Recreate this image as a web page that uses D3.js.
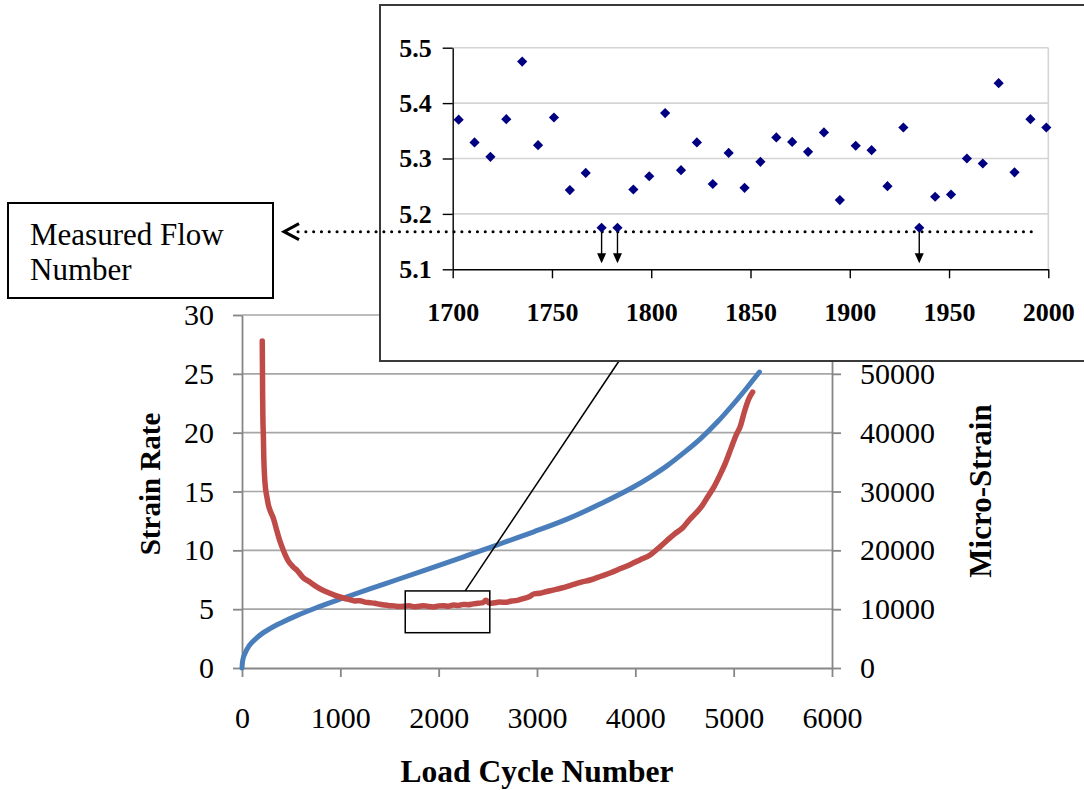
<!DOCTYPE html>
<html>
<head>
<meta charset="utf-8">
<script src="https://cdn.jsdelivr.net/npm/d3@7"></script>
<style>
  html, body { margin: 0; padding: 0; background: #fff; }
  svg { display: block; }
  text { font-family: "Liberation Serif", "Times New Roman", serif; fill: #000; }
</style>
</head>
<body>
<svg id="chart" width="1084" height="790"></svg>
<script>
// Strain rate (left axis) vs load cycle
const rateCycles = [206, 208, 210, 213, 217, 222, 230, 240, 252, 270, 295, 320, 350, 385, 420, 470, 520, 560, 620, 690, 760, 850, 940, 1030,
  1100, 1150, 1200, 1250, 1300, 1350, 1400, 1450, 1500, 1550, 1600, 1650, 1700, 1750, 1800, 1850, 1900, 1950, 2000, 2050, 2100, 2150,
  2200, 2250, 2300, 2350, 2400, 2450, 2480, 2520, 2570, 2620, 2680, 2740, 2800, 2860, 2920, 2970, 3030, 3100, 3150, 3250, 3350, 3450,
  3550, 3650, 3750, 3850, 3950, 4050, 4150, 4250, 4330, 4400, 4480, 4550, 4620, 4680, 4740, 4800, 4860, 4920, 4970, 5020, 5070, 5110,
  5150, 5193];
const strainRate = [27.8, 25.5, 23.0, 21.0, 19.8, 17.8, 16.2, 15.2, 14.6, 13.8, 13.2, 12.7, 11.8, 10.8, 10.0, 9.1, 8.6, 8.3, 7.7, 7.3, 6.9, 6.5, 6.2, 5.95,
  5.8, 5.7, 5.72, 5.6, 5.55, 5.5, 5.42, 5.35, 5.3, 5.28, 5.22, 5.25, 5.3, 5.2, 5.25, 5.3, 5.22, 5.18, 5.28, 5.3, 5.25, 5.35,
  5.32, 5.4, 5.38, 5.45, 5.5, 5.55, 5.75, 5.5, 5.55, 5.6, 5.58, 5.7, 5.75, 5.9, 6.05, 6.3, 6.35, 6.5, 6.6, 6.8, 7.05, 7.3,
  7.5, 7.8, 8.1, 8.45, 8.8, 9.2, 9.6, 10.3, 10.9, 11.4, 11.9, 12.6, 13.2, 13.8, 14.6, 15.4, 16.4, 17.5, 18.6, 19.7, 20.6, 21.8,
  22.8, 23.45];

// Accumulated micro-strain (right axis) vs load cycle
const strainCycles = [0, 4, 10, 31, 70, 116, 200, 285, 400, 557, 750, 1032, 1300, 1575, 1900, 2254, 2526, 2700, 2967, 3306, 3646, 3985,
  4155, 4325, 4494, 4664, 4834, 5004, 5133, 5262];
const microStrain = [0, 900, 1500, 2500, 3700, 4600, 5800, 6700, 7700, 8900, 10200, 11900, 13450, 15000, 16850, 18900, 20500, 21550, 23150, 25300, 27900, 30800,
  32500, 34400, 36600, 39000, 41800, 45000, 47600, 50300];

// Detail view: strain rate around the flow point
const detailCycles = [1703, 1711, 1719, 1727, 1735, 1743, 1751, 1759, 1767, 1775, 1783, 1791, 1799, 1807, 1815, 1823, 1831, 1839, 1847,
  1855, 1863, 1871, 1879, 1887, 1895, 1903, 1911, 1919, 1927, 1935, 1943, 1951, 1959, 1967, 1975, 1983, 1991, 1999];
const detailRate = [5.370, 5.329, 5.303, 5.371, 5.475, 5.324, 5.374, 5.243, 5.274, 5.175, 5.175, 5.244, 5.268, 5.382, 5.279, 5.329, 5.254, 5.310, 5.247,
  5.294, 5.338, 5.330, 5.312, 5.347, 5.225, 5.323, 5.315, 5.250, 5.356, 5.175, 5.231, 5.235, 5.300, 5.291, 5.436, 5.275, 5.371, 5.356];
const flowCycles = [1775, 1783, 1935];
const measuredFlowRate = 5.168;

// Tick values (60000 sits under the detail box and carries no label)
const cycleTicks = [0, 1000, 2000, 3000, 4000, 5000, 6000];
const rateTicks = [0, 5, 10, 15, 20, 25, 30];
const microTicks = [0, 10000, 20000, 30000, 40000, 50000];
const detailCycleTicks = [1700, 1750, 1800, 1850, 1900, 1950, 2000];
const detailRateTicks = [5.1, 5.2, 5.3, 5.4, 5.5];

// Zoomed window on the main chart (cycles / strain rate)
const windowCycles = [1660, 2520];
const windowRate = [3.0, 6.55];

const svg = d3.select("#chart");

// ---------- main chart ----------
const M = { left: 242, right: 832, top: 315, bottom: 668 };
const x = d3.scaleLinear().domain([0, 6000]).range([M.left, M.right]);
const yL = d3.scaleLinear().domain([0, 30]).range([M.bottom, M.top]);
const yR = d3.scaleLinear().domain([0, 60000]).range([M.bottom, M.top]);

const axisGrey = "#868686";

// horizontal gridlines
svg.append("g")
  .selectAll("line")
  .data(rateTicks.filter(d => d > 0))
  .join("line")
  .attr("x1", M.left).attr("x2", M.right)
  .attr("y1", d => yL(d)).attr("y2", d => yL(d))
  .attr("stroke", "#a6a6a6").attr("stroke-width", 1.6);

function styleAxis(g) {
  g.select(".domain").attr("stroke", axisGrey).attr("stroke-width", 1.8);
  g.selectAll(".tick line").attr("stroke", axisGrey).attr("stroke-width", 1.8);
  g.selectAll("text").attr("font-size", 30).attr("fill", "#000")
    .attr("font-family", '"Liberation Serif", "Times New Roman", serif');
}

svg.append("g")
  .attr("transform", `translate(${M.left},0)`)
  .call(d3.axisLeft(yL).tickValues(rateTicks).tickSize(9).tickSizeOuter(0).tickPadding(19))
  .call(styleAxis);

svg.append("g")
  .attr("transform", `translate(${M.right},0)`)
  .call(d3.axisRight(yR).tickValues(microTicks).tickSize(9).tickSizeOuter(0).tickPadding(19).tickFormat(d3.format("d")))
  .call(styleAxis);

svg.append("g")
  .attr("transform", `translate(0,${M.bottom})`)
  .call(d3.axisBottom(x).tickValues(cycleTicks).tickSize(9).tickSizeOuter(0).tickPadding(30).tickFormat(d3.format("d")))
  .call(styleAxis);

// micro-strain curve
svg.append("path")
  .datum(strainCycles.map((c, i) => [c, microStrain[i]]))
  .attr("fill", "none")
  .attr("stroke", "#4a7ebb")
  .attr("stroke-width", 5)
  .attr("stroke-linecap", "round")
  .attr("d", d3.line().x(d => x(d[0])).y(d => yR(d[1])).curve(d3.curveMonotoneX));

// strain-rate curve
svg.append("path")
  .datum(rateCycles.map((c, i) => [c, strainRate[i]]))
  .attr("fill", "none")
  .attr("stroke", "#be4b48")
  .attr("stroke-width", 5.5)
  .attr("stroke-linecap", "round")
  .attr("stroke-linejoin", "round")
  .attr("d", d3.line().x(d => x(d[0])).y(d => yL(d[1])).curve(d3.curveMonotoneX));

// zoom window on the flat part of the strain-rate curve
svg.append("rect")
  .attr("x", x(windowCycles[0])).attr("y", yL(windowRate[1]))
  .attr("width", x(windowCycles[1]) - x(windowCycles[0]))
  .attr("height", yL(windowRate[0]) - yL(windowRate[1]))
  .attr("fill", "none").attr("stroke", "#000").attr("stroke-width", 1.5);

// ---------- detail view ----------
const box = { left: 380, top: 5, right: 1092, bottom: 361 };
const D = { left: 452.7, right: 1048.3, top: 47.7, bottom: 269.3 };
const xd = d3.scaleLinear().domain([1700, 2000]).range([D.left, D.right]);
const yd = d3.scaleLinear().domain([5.1, 5.5]).range([D.bottom, D.top]);

// leader line from the window to the detail box
svg.append("line")
  .attr("x1", x(2270)).attr("y1", yL(windowRate[1]))
  .attr("x2", 619).attr("y2", box.bottom)
  .attr("stroke", "#000").attr("stroke-width", 1.5);

svg.append("rect")
  .attr("x", box.left).attr("y", box.top)
  .attr("width", box.right - box.left).attr("height", box.bottom - box.top)
  .attr("fill", "#fff").attr("stroke", "#3a3a3a").attr("stroke-width", 2);

// gridlines and plot border
svg.append("g")
  .selectAll("line")
  .data(detailRateTicks.filter(d => d > 5.1))
  .join("line")
  .attr("x1", D.left).attr("x2", D.right)
  .attr("y1", d => yd(d)).attr("y2", d => yd(d))
  .attr("stroke", "#d4d4d4").attr("stroke-width", 1.6);
svg.append("line")
  .attr("x1", D.right).attr("x2", D.right)
  .attr("y1", D.top).attr("y2", D.bottom)
  .attr("stroke", "#d4d4d4").attr("stroke-width", 1.6);

function styleDetailAxis(g) {
  g.select(".domain").attr("stroke", "#000").attr("stroke-width", 1.4);
  g.selectAll(".tick line").attr("stroke", "#000").attr("stroke-width", 1.4);
  g.selectAll("text").attr("font-size", 26).attr("font-weight", "bold").attr("fill", "#000")
    .attr("font-family", '"Liberation Serif", "Times New Roman", serif');
}

svg.append("g")
  .attr("transform", `translate(${D.left},0)`)
  .call(d3.axisLeft(yd).tickValues(detailRateTicks).tickSize(10).tickSizeOuter(0).tickPadding(11).tickFormat(d3.format(".1f")))
  .call(styleDetailAxis);

svg.append("g")
  .attr("transform", `translate(0,${D.bottom})`)
  .call(d3.axisBottom(xd).tickValues(detailCycleTicks).tickSize(9).tickSizeOuter(0).tickPadding(24).tickFormat(d3.format("d")))
  .call(styleDetailAxis);

// measured flow number level line with open arrowhead
const flowY = yd(measuredFlowRate);
svg.append("line")
  .attr("x1", 298).attr("x2", 1037)
  .attr("y1", flowY).attr("y2", flowY)
  .attr("stroke", "#000").attr("stroke-width", 3)
  .attr("stroke-linecap", "round")
  .attr("stroke-dasharray", "0.1 7.7");
svg.append("path")
  .attr("d", `M${299},${flowY - 8} L${284},${flowY} L${299},${flowY + 8}`)
  .attr("fill", "none").attr("stroke", "#000").attr("stroke-width", 3)
  .attr("stroke-linejoin", "miter");

// arrows marking the lowest points
const flowArrows = svg.append("g");
flowCycles.forEach(c => {
  const cx = xd(c);
  const tip = D.bottom - 6;
  flowArrows.append("line")
    .attr("x1", cx).attr("x2", cx)
    .attr("y1", yd(5.175) + 4).attr("y2", tip - 8)
    .attr("stroke", "#000").attr("stroke-width", 1.4);
  flowArrows.append("path")
    .attr("d", `M${cx - 4.5},${tip - 10} L${cx + 4.5},${tip - 10} L${cx},${tip} Z`)
    .attr("fill", "#000");
});

// detail points (diamonds)
svg.append("g")
  .selectAll("path")
  .data(detailCycles.map((c, i) => [c, detailRate[i]]))
  .join("path")
  .attr("d", d3.symbol(d3.symbolSquare, 52))
  .attr("transform", d => `translate(${xd(d[0])},${yd(d[1])}) rotate(45)`)
  .attr("fill", "#000080");

// ---------- titles ----------
svg.append("text")
  .attr("x", 537).attr("y", 782)
  .attr("text-anchor", "middle")
  .attr("font-size", 31.5).attr("font-weight", "bold")
  .text("Load Cycle Number");

svg.append("text")
  .attr("transform", "translate(160,484) rotate(-90)")
  .attr("text-anchor", "middle")
  .attr("font-size", 29).attr("font-weight", "bold")
  .text("Strain Rate");

svg.append("text")
  .attr("transform", "translate(991,491) rotate(-90)")
  .attr("text-anchor", "middle")
  .attr("font-size", 31).attr("font-weight", "bold")
  .text("Micro-Strain");

// measured flow number label
svg.append("rect")
  .attr("x", 8).attr("y", 203).attr("width", 265).attr("height", 95)
  .attr("fill", "#fff").attr("stroke", "#000").attr("stroke-width", 2);
const lbl = svg.append("text").attr("font-size", 31);
lbl.append("tspan").attr("x", 30).attr("y", 245).text("Measured Flow");
lbl.append("tspan").attr("x", 30).attr("y", 280).text("Number");
</script>
</body>
</html>
